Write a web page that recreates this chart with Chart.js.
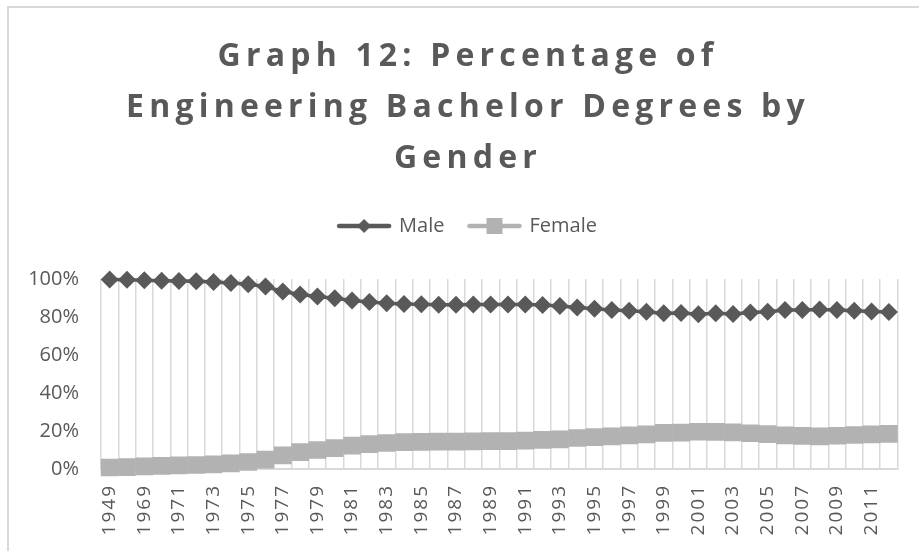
<!DOCTYPE html>
<html>
<head>
<meta charset="utf-8">
<title>Graph 12</title>
<script src="https://cdn.jsdelivr.net/npm/chart.js@4.4.1/dist/chart.umd.min.js"></script>
<style>
  html, body { margin: 0; padding: 0; background: #fff; overflow: hidden; }
  .frame {
    position: absolute; left: 7px; top: 6px; width: 960px; height: 620px;
    border-left: 2px solid #d9d9d9; border-top: 2px solid #d9d9d9;
  }
  .box { position: absolute; left: 0; top: 0; width: 918px; height: 560px; }
</style>
</head>
<body>
<div class="frame"><div class="box"><canvas id="genderChart"></canvas></div></div>
<script>
// Data
const years = ['1949', '1959', '1969', '1970', '1971', '1972', '1973', '1974', '1975', '1976',
  '1977', '1978', '1979', '1980', '1981', '1982', '1983', '1984', '1985', '1986',
  '1987', '1988', '1989', '1990', '1991', '1992', '1993', '1994', '1995', '1996',
  '1997', '1998', '1999', '2000', '2001', '2002', '2003', '2004', '2005', '2006',
  '2007', '2008', '2009', '2010', '2011', '2012'];

const malePct = [99.7, 99.6, 99.3, 99.1, 99.0, 98.8, 98.4, 97.9, 97.2, 96.0,
  93.4, 91.8, 90.8, 89.9, 88.7, 87.9, 87.2, 86.8, 86.7, 86.5,
  86.5, 86.6, 86.6, 86.6, 86.6, 86.3, 85.8, 85.0, 84.3, 83.7,
  83.3, 82.7, 81.9, 82.1, 81.5, 82.0, 81.6, 82.4, 82.7, 83.7,
  83.7, 83.9, 83.7, 83.3, 82.9, 82.6];

const femalePct = [0.8, 1.0, 1.4, 1.6, 1.9, 2.1, 2.4, 3.0, 3.7, 4.9,
  7.2, 8.9, 10.0, 11.0, 12.3, 13.1, 13.7, 14.1, 14.3, 14.4,
  14.4, 14.5, 14.7, 14.7, 14.9, 15.3, 15.6, 16.3, 16.8, 17.2,
  17.7, 18.2, 19.0, 19.1, 19.6, 19.5, 19.3, 18.8, 18.4, 17.7,
  17.4, 17.2, 17.5, 17.9, 18.2, 18.5];

const yTicks = [0, 20, 40, 60, 80, 100];

const titleLines = ['Graph 12: Percentage of', 'Engineering Bachelor Degrees by', 'Gender'];

const MALE_COLOR = '#595959';
const FEMALE_COLOR = '#b2b2b2';
const GRID_COLOR = '#d9d9d9';
const TEXT_COLOR = '#595959';

Chart.defaults.font.family = "'Open Sans', sans-serif";
Chart.defaults.color = TEXT_COLOR;

// Ikon legenda: garis + marker
function legendIcon(color, marker) {
    const c = document.createElement('canvas');
    c.width = 56;
    c.height = 18;
    const g = c.getContext('2d');
    g.strokeStyle = color;
    g.fillStyle = color;
    g.lineWidth = 4.5;
    g.lineCap = 'round';
    g.beginPath();
    g.moveTo(3, 9);
    g.lineTo(53, 9);
    g.stroke();
    g.beginPath();
    if (marker === 'diamond') {
        g.moveTo(28, 2);
        g.lineTo(35, 9);
        g.lineTo(28, 16);
        g.lineTo(21, 9);
        g.closePath();
    } else {
        g.rect(20, 1, 16, 16);
    }
    g.fill();
    return c;
}
const legendIcons = [legendIcon(MALE_COLOR, 'diamond'), legendIcon(FEMALE_COLOR, 'square')];

// letterSpacing untuk judul dan label tahun
function withSpacing(target, method, spacing) {
    if (!target || target['__spaced_' + method]) return;
    const original = target[method];
    target[method] = function (...args) {
        this.ctx.save();
        this.ctx.letterSpacing = spacing;
        original.apply(this, args);
        this.ctx.restore();
    };
    target['__spaced_' + method] = true;
}

const spacingPlugin = {
    id: 'letterSpacing',
    beforeLayout(chart) {
        withSpacing(chart.titleBlock, 'draw', '5.2px');
        withSpacing(chart.scales.x, 'drawLabels', '2px');
    }
};

const ctx = document.getElementById('genderChart').getContext('2d');
const genderChart = new Chart(ctx, {
    type: 'line',
    data: {
        labels: years,
        datasets: [{
            label: 'Male',
            data: malePct,
            borderColor: MALE_COLOR,
            backgroundColor: MALE_COLOR,
            borderWidth: 3.5,
            pointStyle: 'rectRot',
            pointRadius: 9,
            pointBorderWidth: 0,
            pointBackgroundColor: MALE_COLOR,
            tension: 0
        }, {
            label: 'Female',
            data: femalePct,
            borderColor: FEMALE_COLOR,
            backgroundColor: FEMALE_COLOR,
            borderWidth: 3.5,
            pointStyle: 'rect',
            pointRadius: 12.5,
            pointBorderWidth: 0,
            pointBackgroundColor: FEMALE_COLOR,
            tension: 0
        }]
    },
    options: {
        responsive: true,
        maintainAspectRatio: false,
        animation: false,
        events: [],
        layout: { padding: 0 },
        plugins: {
            title: {
                display: true,
                text: titleLines,
                color: TEXT_COLOR,
                font: { size: 32, weight: 'bold', lineHeight: 1.58 },
                padding: { top: 24, bottom: 7.3 }
            },
            legend: {
                display: true,
                position: 'top',
                labels: {
                    usePointStyle: true,
                    pointStyleWidth: 50,
                    padding: 25,
                    color: TEXT_COLOR,
                    font: { size: 20 },
                    generateLabels(chart) {
                        const items = Chart.defaults.plugins.legend.labels.generateLabels(chart);
                        items.forEach((item, i) => { item.pointStyle = legendIcons[i]; });
                        return items;
                    }
                }
            },
            tooltip: { enabled: false }
        },
        scales: {
            x: {
                type: 'category',
                offset: true,
                grid: { display: true, offset: true, color: GRID_COLOR, lineWidth: 1.5, drawTicks: false },
                border: { display: true, color: GRID_COLOR, width: 2 },
                ticks: {
                    autoSkip: false,
                    minRotation: 90,
                    maxRotation: 90,
                    padding: 15,
                    color: TEXT_COLOR,
                    font: { size: 19 },
                    callback: function (val, i) {
                        return i % 2 === 0 ? this.getLabelForValue(val) : '';
                    }
                },
                afterFit: (scale) => { scale.height = 99; }
            },
            // ruang kosong di atas & kanan area plot
            gapTop: {
                type: 'category',
                position: 'top',
                display: true,
                grid: { display: false },
                border: { display: false },
                ticks: { display: false },
                afterFit: (scale) => { scale.height = 33; }
            },
            gapRight: {
                type: 'linear',
                position: 'right',
                display: true,
                grid: { display: false },
                border: { display: false },
                ticks: { display: false },
                afterFit: (scale) => { scale.width = 26; }
            },
            y: {
                min: yTicks[0],
                max: yTicks[yTicks.length - 1],
                grid: { display: false, drawTicks: false },
                border: { display: false },
                ticks: {
                    stepSize: yTicks[1] - yTicks[0],
                    padding: 22,
                    color: TEXT_COLOR,
                    font: { size: 20 },
                    callback: (v) => v + '%'
                },
                afterFit: (scale) => { scale.width = 92; }
            }
        }
    },
    plugins: [spacingPlugin]
});
</script>
</body>
</html>
